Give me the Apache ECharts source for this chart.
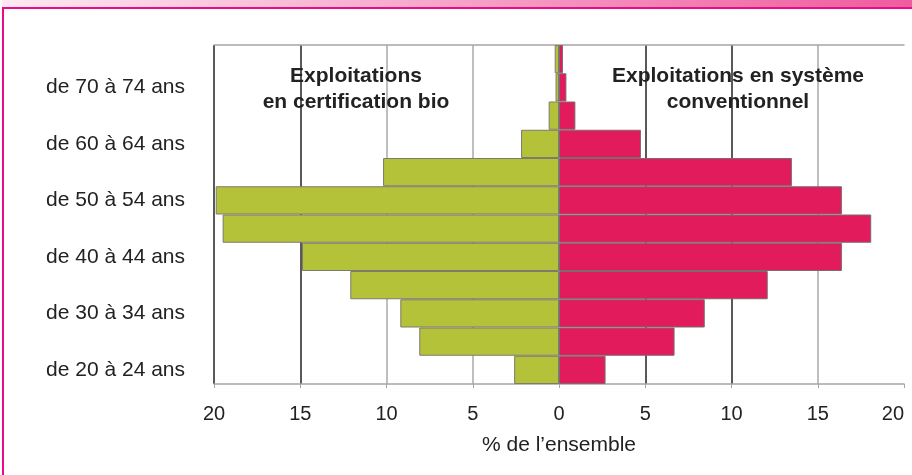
<!DOCTYPE html>
<html>
<head>
<meta charset="utf-8">
<script src="https://cdn.jsdelivr.net/npm/echarts@6/dist/echarts.min.js"></script>
<style>html,body{margin:0;padding:0;background:#fff;overflow:hidden;}#c{width:912px;height:475px;}</style>
</head>
<body>
<div id="c"></div>
<script>
// Age groups (bottom to top)
const categories = ["de 20 à 24 ans","de 25 à 29 ans","de 30 à 34 ans","de 35 à 39 ans","de 40 à 44 ans","de 45 à 49 ans","de 50 à 54 ans","de 55 à 59 ans","de 60 à 64 ans","de 65 à 69 ans","de 70 à 74 ans","de 75 à 79 ans"];
// % of total, organic farms (drawn to the left)
const bioValues = [2.6, 8.1, 9.2, 12.1, 14.9, 19.5, 19.9, 10.2, 2.2, 0.6, 0.2, 0.25];
// % of total, conventional farms (drawn to the right)
const convValues = [2.7, 6.7, 8.45, 12.1, 16.4, 18.1, 16.4, 13.5, 4.75, 0.95, 0.43, 0.23];
const xTicks = [-20, -15, -10, -5, 0, 5, 10, 15, 20];
const axisName = "% de l\u2019ensemble";
const labelBio = "Exploitations\nen certification bio";
const labelConv = "Exploitations en système\nconventionnel";

const chart = echarts.init(document.getElementById('c'), null, {renderer: 'canvas'});
const FONT = "'Liberation Sans', Arial, sans-serif";
chart.setOption({
  animation: false,
  backgroundColor: '#ffffff',
  grid: {left: 214, right: 8, top: 45, bottom: 91, containLabel: false, outerBoundsMode: 'none'},
  xAxis: [{
    type: 'value',
    min: xTicks[0], max: xTicks[xTicks.length - 1], interval: 5,
    position: 'bottom',
    axisLine: {show: true, onZero: false, lineStyle: {color: '#a9a4a4', width: 1.5}},
    axisTick: {show: true, length: 4, lineStyle: {color: '#a9a4a4'}},
    axisLabel: {color: '#222', fontSize: 20, fontFamily: FONT, margin: 20, alignMaxLabel: 'right',
      formatter: v => String(Math.abs(v))},
    splitLine: {show: true, lineStyle: {width: 1.5,
      color: ['#222', '#222', '#a8a8a8', '#a8a8a8', '#a8a8a8', '#222', '#222', '#a8a8a8', 'rgba(0,0,0,0)']}},
    name: axisName, nameLocation: 'middle', nameGap: 51,
    nameTextStyle: {color: '#222', fontSize: 21, fontFamily: FONT}
  }, {
    type: 'value',
    min: xTicks[0], max: xTicks[xTicks.length - 1], interval: 5,
    position: 'top',
    axisLine: {show: true, onZero: false, lineStyle: {color: '#a9a4a4', width: 1.5}},
    axisTick: {show: false}, axisLabel: {show: false}, splitLine: {show: false}
  }],
  yAxis: {
    type: 'category',
    data: categories,
    axisLine: {show: false, onZero: false},
    axisTick: {show: false},
    axisLabel: {interval: 1, color: '#222', fontSize: 21, fontFamily: FONT, margin: 29},
    splitLine: {show: false}
  },
  series: [{
    name: 'bio', type: 'bar',
    data: bioValues.map(v => -v),
    barGap: '-100%', barCategoryGap: '0%',
    itemStyle: {color: '#b4c23a', borderColor: '#7d7a6e', borderWidth: 1}
  }, {
    name: 'conv', type: 'bar',
    data: convValues,
    barGap: '-100%', barCategoryGap: '0%',
    itemStyle: {color: '#e21b5c', borderColor: '#7d6a6e', borderWidth: 1}
  }],
  graphic: [
    {type: 'rect', left: 2, top: 0, shape: {width: 910, height: 7}, silent: true,
      style: {fill: new echarts.graphic.LinearGradient(0, 0, 1, 0, [{offset: 0, color: '#fde9f1'}, {offset: 1, color: '#ef5c9f'}])}},
    {type: 'rect', left: 2, top: 7, shape: {width: 910, height: 2}, silent: true, style: {fill: '#ec0a8a'}},
    {type: 'rect', left: 2, top: 7, shape: {width: 2, height: 468}, silent: true, style: {fill: '#ec0a8a'}},
    {type: 'text', x: 356, y: 89, z: 100, silent: true,
      style: {text: labelBio, fill: '#222', font: "bold 21px " + FONT, align: 'center', verticalAlign: 'middle', lineHeight: 26}},
    {type: 'text', x: 738, y: 89, z: 100, silent: true,
      style: {text: labelConv, fill: '#222', font: "bold 21px " + FONT, align: 'center', verticalAlign: 'middle', lineHeight: 26}}
  ]
});
</script>
</body>
</html>
